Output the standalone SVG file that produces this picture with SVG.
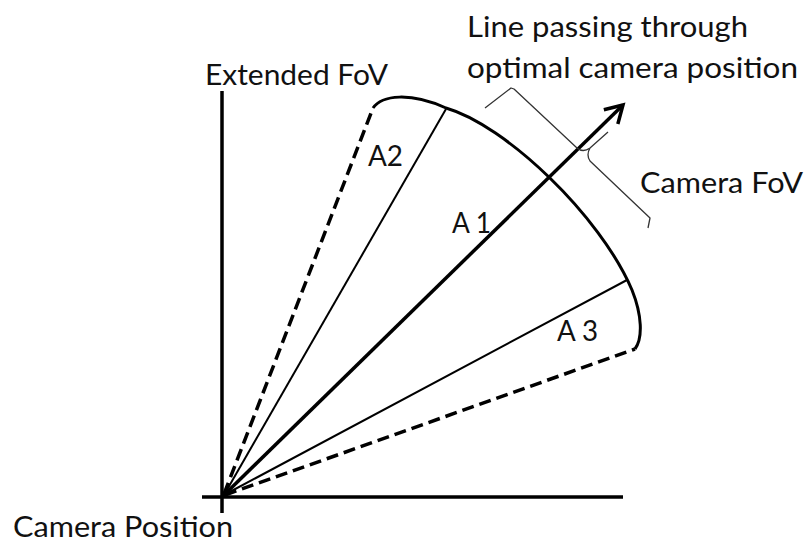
<svg xmlns="http://www.w3.org/2000/svg" width="805" height="543" viewBox="0 0 805 543">
<style>
text{font-family:Lato,"Open Sans","Liberation Sans",sans-serif;font-size:29.5px;fill:#111}
.ax{stroke:#000;stroke-width:3.5;fill:none}
.thin{stroke:#000;stroke-width:2;fill:none}
.dash{stroke:#000;stroke-width:3.5;stroke-dasharray:12 6;fill:none}
.arc{stroke:#000;stroke-width:3;fill:none}
.brace{stroke:#333;stroke-width:1.3;fill:none;stroke-linejoin:round}
</style>
<defs>
<marker id="ah" markerUnits="userSpaceOnUse" markerWidth="26" markerHeight="26" refX="20" refY="12" orient="auto">
<path d="M3,2 L20,12 L3,22" fill="none" stroke="#000" stroke-width="3.5" stroke-linejoin="miter"/>
</marker>
</defs>
<g id="axes">
<line class="ax" x1="222" y1="91" x2="222" y2="513"/>
<line class="ax" x1="202" y1="497" x2="623" y2="497"/>
</g>
<g id="connectors">
<line class="dash" x1="224" y1="494" x2="373" y2="108"/>
<line class="dash" x1="225" y1="495" x2="635" y2="349"/>
<line class="thin" x1="224" y1="495" x2="446" y2="109"/>
<line class="thin" x1="224" y1="495" x2="627" y2="280"/>
<line class="ax" x1="223" y1="496" x2="623" y2="105" marker-end="url(#ah)"/>
</g>
<g id="arc">
<path class="arc" d="M373,108 C382,95 410,92 446,108 C505,125 600,215 632,290 C642,315 643,338 635,349"/>
</g>
<g id="brace">
<path class="brace" d="M485,108 L511,88 L514,89 L577,148 Q583,153 590,148 L608,132 M590,148 Q586,155 590,161 L650,218 L648,228"/>
</g>
<g id="labels">
<text x="467" y="37" textLength="281" lengthAdjust="spacingAndGlyphs">Line passing through</text>
<text x="467" y="78" textLength="331" lengthAdjust="spacingAndGlyphs">optimal camera position</text>
<text x="205" y="85" textLength="183" lengthAdjust="spacingAndGlyphs">Extended FoV</text>
<text x="368" y="166" textLength="35" lengthAdjust="spacingAndGlyphs">A2</text>
<text x="452" y="233" textLength="39" lengthAdjust="spacingAndGlyphs">A 1</text>
<text x="640" y="193" textLength="163" lengthAdjust="spacingAndGlyphs">Camera FoV</text>
<text x="557" y="341" textLength="41" lengthAdjust="spacingAndGlyphs">A 3</text>
<text x="13" y="537" textLength="220" lengthAdjust="spacingAndGlyphs">Camera Position</text>
</g>
</svg>
